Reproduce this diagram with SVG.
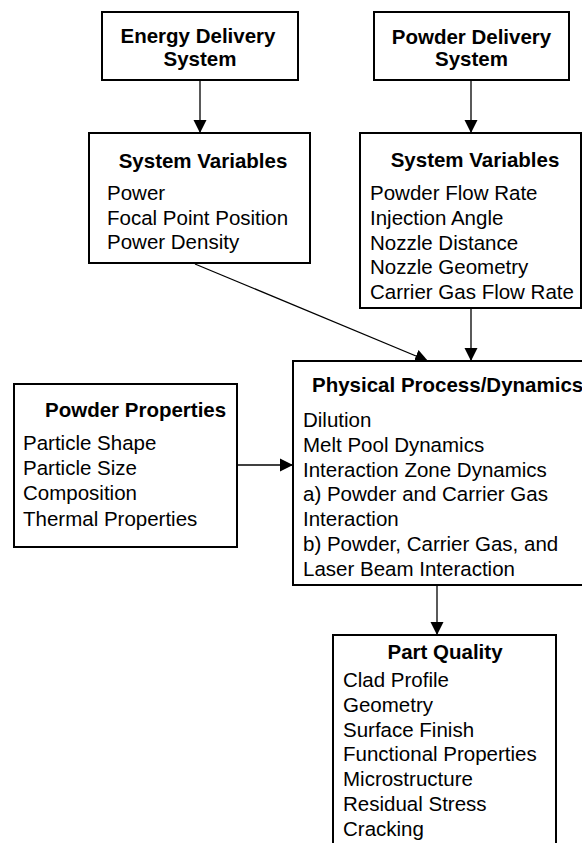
<svg xmlns="http://www.w3.org/2000/svg" width="582" height="843" viewBox="0 0 582 843">
<style>
  .box { fill: #ffffff; stroke: #000000; stroke-width: 2; }
  .t { font-family: "Liberation Sans", Arial, sans-serif; font-size: 20.5px; fill: #000000; }
  .b { font-weight: bold; }
  .c { text-anchor: middle; }
  .conn { stroke: #000000; stroke-width: 1.3; fill: none; marker-end: url(#ah); }
</style>
<defs>
  <marker id="ah" markerUnits="userSpaceOnUse" markerWidth="14" markerHeight="14" viewBox="0 0 14 14" refX="13" refY="7" orient="auto">
    <path d="M0,0.5 L13,7 L0,13.5 Z" fill="#000000"/>
  </marker>
</defs>
<rect width="582" height="843" fill="#ffffff"/>
<g id="connectors">
  <line class="conn" x1="200" y1="81" x2="200" y2="133"/>
  <line class="conn" x1="471" y1="81" x2="471" y2="133"/>
  <line class="conn" x1="195" y1="264" x2="428" y2="361"/>
  <line class="conn" x1="471" y1="309" x2="471" y2="361"/>
  <line class="conn" x1="238" y1="465" x2="293" y2="465"/>
  <line class="conn" x1="437" y1="586" x2="437" y2="635"/>
</g>
<g id="energy-delivery">
  <rect class="box" x="102" y="12" width="196" height="68"/>
  <text class="t b c" x="198" y="43">Energy Delivery</text>
  <text class="t b c" x="200" y="66">System</text>
</g>
<g id="powder-delivery">
  <rect class="box" x="374" y="12" width="195" height="68"/>
  <text class="t b c" x="471.5" y="44">Powder Delivery</text>
  <text class="t b c" x="471.5" y="66">System</text>
</g>
<g id="energy-variables">
  <rect class="box" x="89" y="133" width="221" height="130"/>
  <text class="t b c" x="203" y="168">System Variables</text>
  <text class="t" x="107" y="200">Power</text>
  <text class="t" x="107" y="224.5">Focal Point Position</text>
  <text class="t" x="107" y="249">Power Density</text>
</g>
<g id="powder-variables">
  <rect class="box" x="360" y="133" width="221" height="175"/>
  <text class="t b c" x="475" y="167">System Variables</text>
  <text class="t" x="370" y="200">Powder Flow Rate</text>
  <text class="t" x="370" y="224.8">Injection Angle</text>
  <text class="t" x="370" y="249.6">Nozzle Distance</text>
  <text class="t" x="370" y="274.4">Nozzle Geometry</text>
  <text class="t" x="370" y="299.2">Carrier Gas Flow Rate</text>
</g>
<g id="powder-properties">
  <rect class="box" x="14" y="384" width="223" height="163"/>
  <text class="t b" x="45" y="417">Powder Properties</text>
  <text class="t" x="23" y="450">Particle Shape</text>
  <text class="t" x="23" y="475">Particle Size</text>
  <text class="t" x="23" y="500">Composition</text>
  <text class="t" x="23" y="526">Thermal Properties</text>
</g>
<g id="physical-process">
  <rect class="box" x="293" y="361" width="310" height="224"/>
  <text class="t b" x="312" y="392">Physical Process/Dynamics</text>
  <text class="t" x="303" y="427">Dilution</text>
  <text class="t" x="303" y="451.8">Melt Pool Dynamics</text>
  <text class="t" x="303" y="476.6">Interaction Zone Dynamics</text>
  <text class="t" x="303" y="501.4">a) Powder and Carrier Gas</text>
  <text class="t" x="303" y="526.2">Interaction</text>
  <text class="t" x="303" y="551">b) Powder, Carrier Gas, and</text>
  <text class="t" x="303" y="575.8">Laser Beam Interaction</text>
</g>
<g id="part-quality">
  <rect class="box" x="333" y="635" width="223" height="230"/>
  <text class="t b c" x="445" y="659">Part Quality</text>
  <text class="t" x="343" y="687">Clad Profile</text>
  <text class="t" x="343" y="711.8">Geometry</text>
  <text class="t" x="343" y="736.6">Surface Finish</text>
  <text class="t" x="343" y="761.4">Functional Properties</text>
  <text class="t" x="343" y="786.2">Microstructure</text>
  <text class="t" x="343" y="811">Residual Stress</text>
  <text class="t" x="343" y="835.8">Cracking</text>
</g>
</svg>
